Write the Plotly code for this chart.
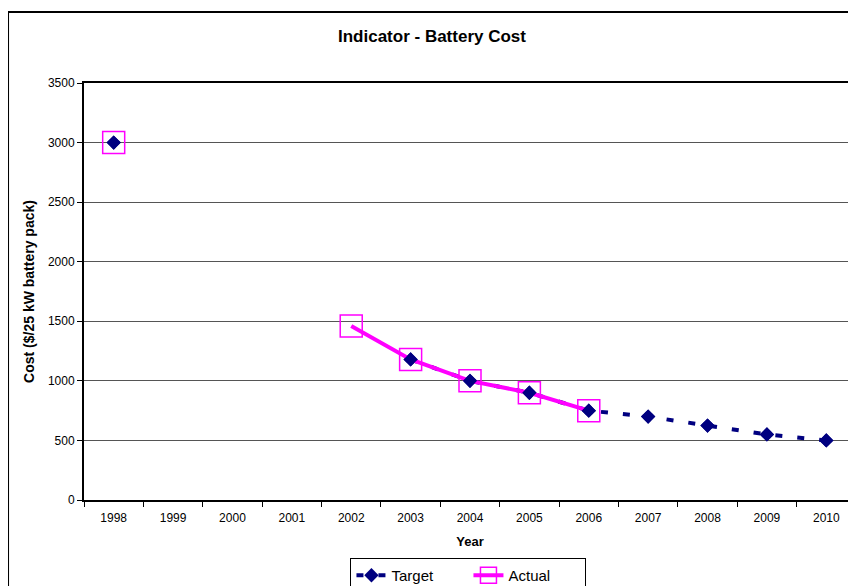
import plotly.graph_objects as go

years = [str(y) for y in range(1998, 2011)]
target = [3000, None, None, None, None, 1180, 1000, 900, 750, 700, 625, 550, 500]
actual = [3000, None, None, None, 1460, 1180, 1000, 900, 750, None, None, None, None]

NAVY = "#000080"
MAGENTA = "#FF00FF"
FONT = "Liberation Sans, Arial, sans-serif"

fig = go.Figure()

# target dashed line with diamonds (drawn under the actual line)
fig.add_trace(go.Scatter(
    x=years, y=target, name="Target", mode="lines+markers",
    line=dict(color=NAVY, width=4, dash="7px,15px"),
    marker=dict(symbol="diamond", size=11, color=NAVY),
))
fig.add_trace(go.Scatter(
    x=years, y=actual, name="Actual", mode="lines+markers",
    line=dict(color=MAGENTA, width=4),
    marker=dict(symbol="square-open", size=22, color=MAGENTA, line=dict(width=1.5)),
))
# diamonds again so they sit on top of the magenta line
fig.add_trace(go.Scatter(
    x=years, y=target, mode="markers", showlegend=False, hoverinfo="skip",
    marker=dict(symbol="diamond", size=11, color=NAVY),
))

# page body has an 8px margin, so the figure is shifted to compensate
fig.update_layout(
    width=848, height=578,
    margin=dict(l=76, r=0, t=75, b=86, autoexpand=False),
    paper_bgcolor="white", plot_bgcolor="white",
    font=dict(family=FONT, size=12, color="black"),
    title=dict(text="<b>Indicator - Battery Cost</b>", x=0.5, xref="container",
               y=1 - 28 / 578, yanchor="middle", font=dict(size=17)),
    legend=dict(orientation="h", x=0.498, xanchor="center",
                yref="container", y=1 - 550 / 578, yanchor="top",
                bordercolor="black", borderwidth=1, font=dict(size=15),
                entrywidth=72, tracegroupgap=0),
    showlegend=True,
    shapes=[dict(type="rect", xref="paper", yref="paper",
                 x0=-0.0984, x1=1.01, y0=-0.25, y1=1.17,
                 line=dict(color="black", width=2), layer="below")],
)

fig.update_xaxes(
    type="category", categoryorder="array", categoryarray=years,
    range=[-0.5, 12.5], automargin=False,
    tickson="boundaries", ticks="outside", ticklen=5, tickcolor="black",
    ticklabelstandoff=6,
    showline=True, linecolor="black", linewidth=2, mirror=True,
    showgrid=False, title=dict(text="<b>Year</b>", font=dict(size=13), standoff=12),
    tickfont=dict(size=12),
)
fig.update_yaxes(
    range=[0, 3500], dtick=500, ticks="outside", ticklen=5, tickcolor="black",
    automargin=False,
    showline=True, linecolor="black", linewidth=2, mirror=True,
    showgrid=True, gridcolor="#555555", gridwidth=1, zeroline=False,
    title=dict(text="<b>Cost ($/25 kW battery pack)</b>", font=dict(size=14), standoff=10),
    tickfont=dict(size=12),
)

fig.write_html("out.html")
